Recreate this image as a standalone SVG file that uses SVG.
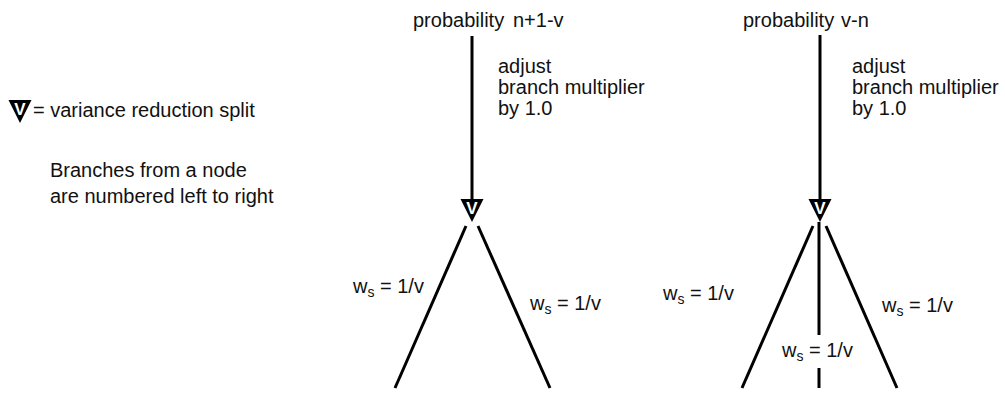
<svg xmlns="http://www.w3.org/2000/svg" width="1005" height="393" viewBox="0 0 1005 393">
<style>
text{font-family:"Liberation Sans",Arial,Helvetica,sans-serif;font-size:20px;fill:#111}
.sub{font-size:14px}
.vr{fill:#000}
.vv{fill:#fff;font-weight:bold;font-size:17px}
.ln{stroke:#000;stroke-width:3;fill:none}
</style>
<defs>
<g id="vsym">
<polygon class="vr" points="-11.5,0 11.5,0 0,23"/>
<text class="vv" x="0" y="15" text-anchor="middle">V</text>
</g>
</defs>
<rect width="1005" height="393" fill="#fff"/>
<g id="legend">
<use href="#vsym" x="20" y="100"/>
<text x="33" y="117">= variance reduction split</text>
<text x="50" y="177">Branches from a node</text>
<text x="50" y="203">are numbered left to right</text>
</g>
<g id="connectors">
<line class="ln" x1="472" y1="36" x2="472" y2="200"/>
<line class="ln" x1="466" y1="226" x2="395" y2="388"/>
<line class="ln" x1="478" y1="226" x2="550" y2="388"/>
<line class="ln" x1="820" y1="35" x2="820" y2="200"/>
<line class="ln" x1="813" y1="226" x2="742" y2="388"/>
<line class="ln" x1="826" y1="226" x2="897" y2="388"/>
<line class="ln" x1="819" y1="222" x2="819" y2="335"/>
<line class="ln" x1="819" y1="368" x2="819" y2="388"/>
</g>
<g id="node-left">
<text x="413" y="27">probability<tspan x="513">n+1-v</tspan></text>
<text x="498" y="73">adjust</text>
<text x="498" y="94">branch multiplier</text>
<text x="498" y="115">by 1.0</text>
<use href="#vsym" x="472" y="199"/>
</g>
<g id="node-right">
<text x="743" y="27">probability<tspan x="841">v-n</tspan></text>
<text x="852" y="73">adjust</text>
<text x="852" y="94">branch multiplier</text>
<text x="852" y="115">by 1.0</text>
<use href="#vsym" x="820" y="199"/>
</g>
<g id="labels">
<text x="353" y="293">w<tspan class="sub" dy="4">s</tspan><tspan dy="-4"> = 1/v</tspan></text>
<text x="530" y="310">w<tspan class="sub" dy="4">s</tspan><tspan dy="-4"> = 1/v</tspan></text>
<text x="663" y="300">w<tspan class="sub" dy="4">s</tspan><tspan dy="-4"> = 1/v</tspan></text>
<text x="882" y="312">w<tspan class="sub" dy="4">s</tspan><tspan dy="-4"> = 1/v</tspan></text>
<text x="782" y="357">w<tspan class="sub" dy="4">s</tspan><tspan dy="-4"> = 1/v</tspan></text>
</g>
</svg>
